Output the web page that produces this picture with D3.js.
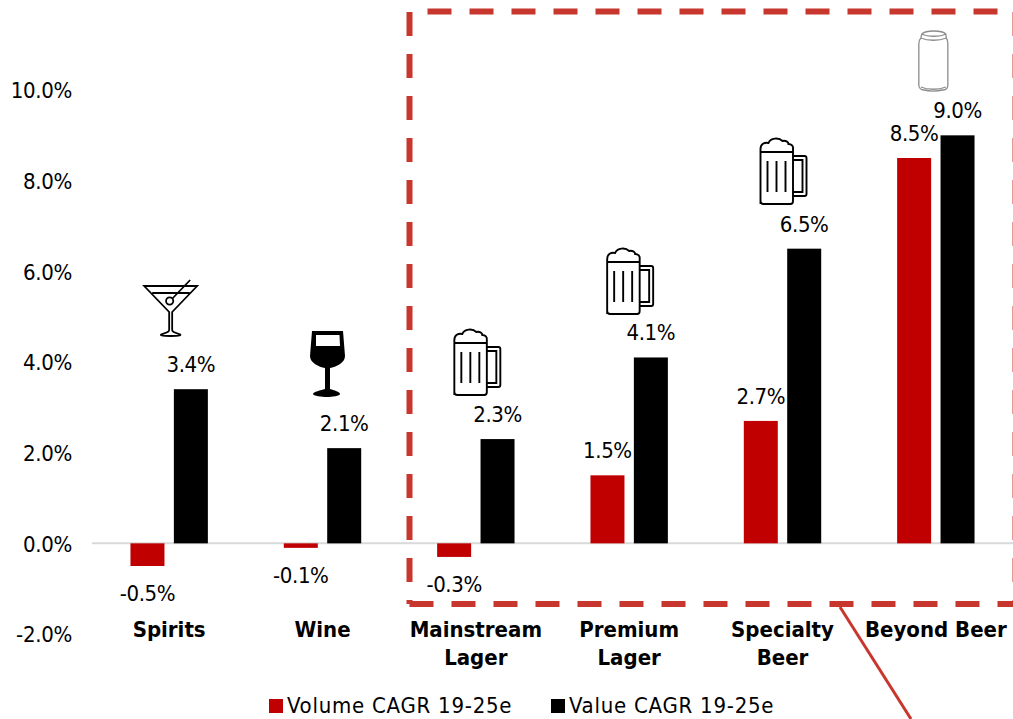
<!DOCTYPE html>
<html>
<head>
<meta charset="utf-8">
<script src="https://cdn.jsdelivr.net/npm/d3@7"></script>
<style>
  html, body { margin: 0; padding: 0; background: #fff; overflow: hidden; }
  text { font-family: "DejaVu Sans Condensed", "DejaVu Sans", sans-serif; font-stretch: condensed; fill: #000; }
</style>
</head>
<body>
<div id="chart"></div>
<script>
var categories = ["Spirits", "Wine", "Mainstream Lager", "Premium Lager", "Specialty Beer", "Beyond Beer"];
var seriesNames = ["Volume CAGR 19-25e", "Value CAGR 19-25e"];
var volume = [-0.5, -0.1, -0.3, 1.5, 2.7, 8.5];
var value = [3.4, 2.1, 2.3, 4.1, 6.5, 9.0];
var yTicks = [-2, 0, 2, 4, 6, 8, 10];
var icons = ["martini", "wine", "mug", "mug", "mug", "can"];

var RED = "#c00000", DASH = "#c8372d";

var svg = d3.select("#chart").append("svg")
    .attr("width", 1013)
    .attr("height", 719)
    .style("display", "block");

var x = d3.scaleBand().domain(categories).range([92.5, 1012.5]).padding(0);
var y = d3.scaleLinear().domain([-2, 10]).range([634, 90]);
var bw = 34, off = 21.7;

// y axis, labels only
var yAxis = d3.axisLeft(y).tickValues(yTicks).tickSize(0).tickPadding(0)
    .tickFormat(function(d) { return d.toFixed(1) + "%"; });
svg.append("g")
    .attr("transform", "translate(72,0)")
    .call(yAxis)
    .call(function(g) { g.select(".domain").remove(); })
  .selectAll("text")
    .attr("dy", "0.36em")
    .style("font-size", "22px")
    .style("letter-spacing", "-0.3px");

// zero line
svg.append("line")
    .attr("x1", 92).attr("x2", 1013)
    .attr("y1", y(0)).attr("y2", y(0))
    .attr("stroke", "#d9d9d9").attr("stroke-width", 2);

// bars
function cx(i) { return x(categories[i]) + x.bandwidth() / 2; }

function drawSeries(vals, color, dx) {
  svg.append("g").selectAll("rect")
    .data(vals)
   .enter().append("rect")
    .attr("x", function(d, i) { return cx(i) + dx - bw / 2; })
    .attr("width", bw)
    .attr("y", function(d) { return y(Math.max(d, 0)); })
    .attr("height", function(d) { return Math.abs(y(d) - y(0)); })
    .attr("fill", color);

  svg.append("g").selectAll("text")
    .data(vals)
   .enter().append("text")
    .attr("x", function(d, i) { return cx(i) + dx; })
    .attr("y", function(d) { return d < 0 ? y(d) + 35 : y(d) - 17; })
    .attr("text-anchor", "middle")
    .style("font-size", "22px")
    .style("letter-spacing", "-0.4px")
    .text(function(d) { return d.toFixed(1) + "%"; });
}
drawSeries(volume, RED, -off);
drawSeries(value, "#000", off);

// category labels
var cats = svg.append("g").selectAll("text")
    .data(categories)
   .enter().append("text")
    .attr("text-anchor", "middle")
    .attr("y", 637)
    .style("font-size", "22px")
    .style("font-weight", "bold");
cats.each(function(d, i) {
  var words = i >= 2 && i <= 4 ? d.split(" ") : [d];
  d3.select(this).selectAll("tspan")
    .data(words)
   .enter().append("tspan")
    .attr("x", cx(i))
    .attr("dy", function(w, j) { return j ? 28 : 0; })
    .text(function(w) { return w; });
});

// red dashed box around the beer categories
function dashed(x1, y1, x2, y2, offset) {
  svg.append("line")
    .attr("x1", x1).attr("y1", y1).attr("x2", x2).attr("y2", y2)
    .attr("stroke", DASH).attr("stroke-width", 6)
    .attr("stroke-dasharray", "24 18")
    .attr("stroke-dashoffset", offset);
}
dashed(409.5, 11.5, 1015, 11.5, 24);
dashed(409.5, 12, 409.5, 604, 0);
dashed(409.5, 604, 1015, 604, 0);
dashed(1015.5, 12, 1015.5, 604, 0);

svg.append("line")
    .attr("x1", 840).attr("y1", 607).attr("x2", 911).attr("y2", 719)
    .attr("stroke", DASH).attr("stroke-width", 3);

// icons, drawn in their own small coordinate space
function mug(g) {
  g.append("path")
    .attr("d", "M1,66 V11 C1,6 5,4 9,5 C11,0 19,-1 23,3 C26,2 29,4 29,6 C32,6 34,8 33.5,11 V63 Q33.5,66 31,66 H4 Q1,66 1,63 Z M1,14 H33.5 M33.5,18 H45 Q47,18 47,20 V56 Q47,58 45,58 H33.5 M33.5,22 H43 V54 H33.5 M8,23 V54 M17,23 V54 M26,23 V54")
    .attr("fill", "none").attr("stroke", "#000").attr("stroke-width", 1.9);
}
function martini(g) {
  g.append("path")
    .attr("d", "M1,1 H54 L29,27 V45 C29,47 32,48 36,49 C39,50 37,51 27.500,51 C18,51 16,50 19,49 C23,48 26,47 26,45 V27 Z M9,8 H46.500 M24,19 L47,-5")
    .attr("fill", "none").attr("stroke", "#000").attr("stroke-width", 1.8);
  g.append("circle").attr("cx", 26.5).attr("cy", 16).attr("r", 3.6)
    .attr("fill", "#fff").attr("stroke", "#000").attr("stroke-width", 1.8);
}
function wine(g) {
  g.append("path")
    .attr("fill-rule", "evenodd")
    .attr("d", "M2,0 H33 L35,25 C35,32 26,36 20,37 V58 C24,59 30,61 30,63 C30,65 22,66 17,66 C12,66 3,65 3,63 C3,61 11,59 15,58 V37 C9,36 0,32 0,25 Z M6,4 L6,15 H30 L29.500,4 Z")
    .attr("fill", "#000");
}
function can(g) {
  g.append("path")
    .attr("d", "M4,4 C8,0 24,0 28,4 L28.500,8 C30,10 30,12 30,14 V55 C30,58 28,60 25,60 C18,61.500 12,61.500 6,60 C3,60 1,58 1,55 V14 C1,12 1,10 3,8 Z M3,8 C10,11 21,11 28.500,8 M4,4 C10,7 22,7 28,4 M3,57 C10,60 21,60 28,57")
    .attr("fill", "#fff").attr("stroke", "#8c8c8c").attr("stroke-width", 1.3);
}
var iconFns = { mug: mug, martini: martini, wine: wine, can: can };
var iconOffset = [[-26, 285 - y(3.4)], [-12.5, 331 - y(2.1)], [-22.5, 329 - y(2.3)], [-23, 248 - y(4.1)], [-23, 138 - y(6.5)], [-18, 30 - y(9)]];
icons.forEach(function(name, i) {
  var g = svg.append("g")
    .attr("transform", "translate(" + (cx(i) + iconOffset[i][0]) + "," + (y(value[i]) + iconOffset[i][1]) + ")");
  iconFns[name](g);
});

// legend
var legendX = [269, 551];
var legendColors = [RED, "#000"];
seriesNames.forEach(function(name, i) {
  svg.append("rect")
    .attr("x", legendX[i]).attr("y", 699)
    .attr("width", 14).attr("height", 14)
    .attr("fill", legendColors[i]);
  svg.append("text")
    .attr("x", legendX[i] + 18).attr("y", 713)
    .style("font-size", "22px")
    .style("letter-spacing", "0.75px")
    .text(name);
});
</script>
</body>
</html>
